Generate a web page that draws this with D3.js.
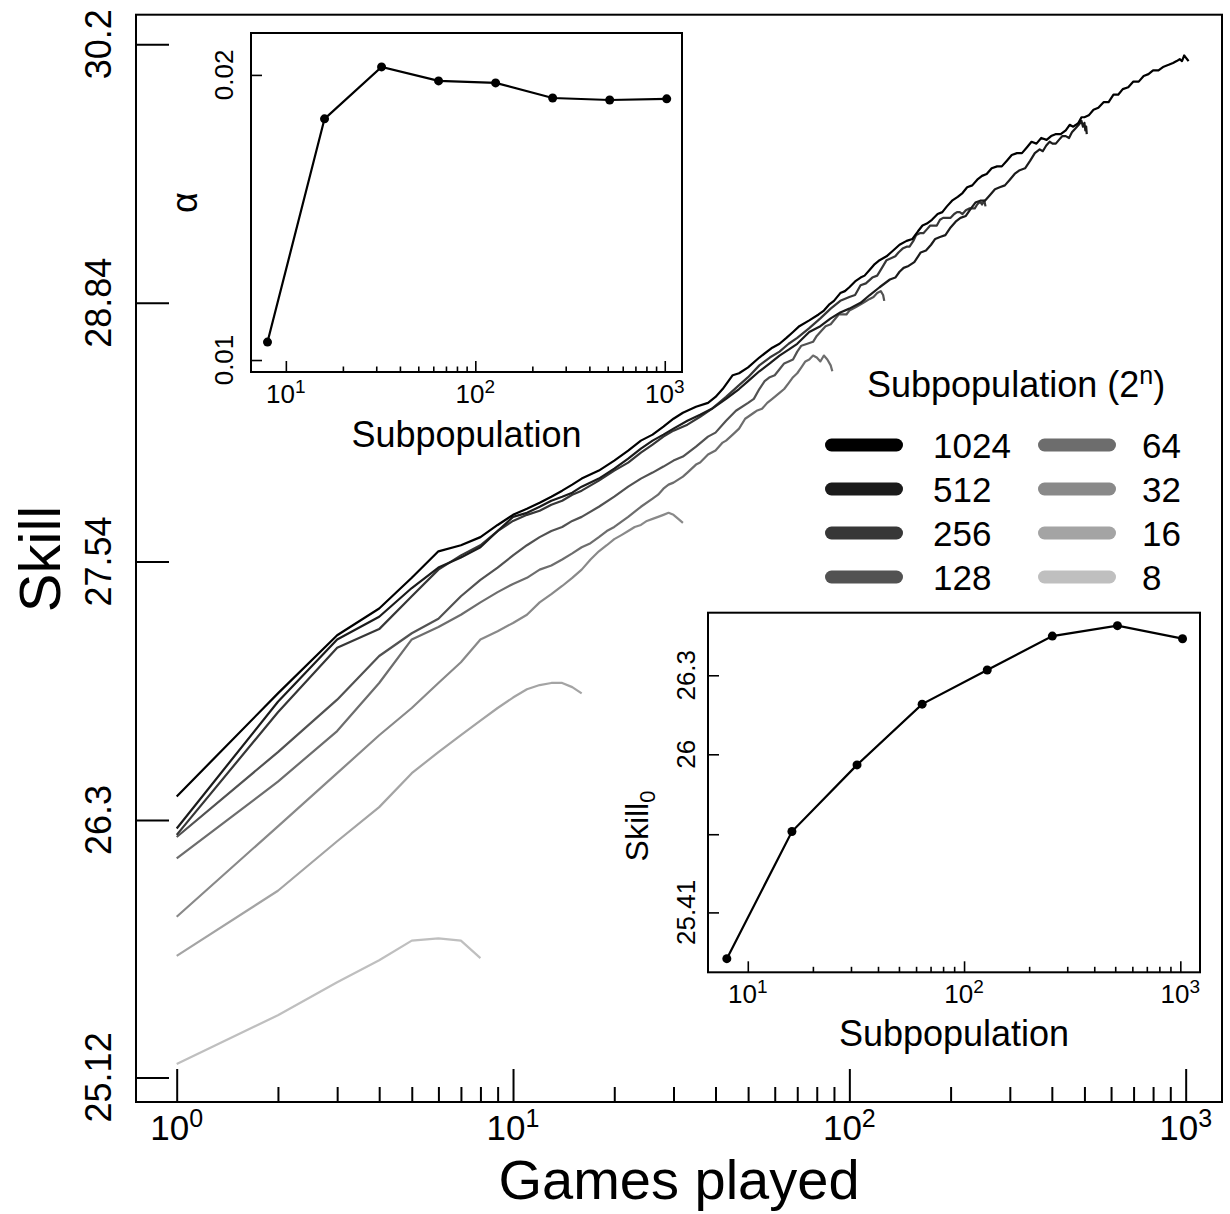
<!DOCTYPE html>
<html>
<head>
<meta charset="utf-8">
<script src="https://cdn.jsdelivr.net/npm/d3@7"></script>
<style>
  html, body { margin: 0; padding: 0; background: #fff; }
  text { font-family: "Liberation Sans", Arial, Helvetica, sans-serif; fill: #000; }
</style>
</head>
<body>
<svg id="chart" width="1230" height="1214"></svg>
<script>
// ---- data -------------------------------------------------------------
// Mean skill after each number of games played, one run per subpopulation size
const run1024 = [[1,26.41],[2,26.90],[3,27.18],[4,27.31],[5,27.46],[6,27.59],[7,27.62],[8,27.66],[9,27.72],[10,27.77],[11,27.80],[12,27.83],[13,27.86],[14,27.89],[15,27.92],[16,27.95],[18,27.99],[20,28.04],[22,28.09],[24,28.14],[26,28.17],[28,28.21],[30,28.25],[32,28.28],[35,28.31],[38,28.33],[40,28.36],[42,28.40],[45,28.47],[47,28.48],[50,28.51],[54,28.56],[59,28.61],[62,28.63],[65,28.66],[68,28.69],[71,28.72],[76,28.75],[81,28.78],[84,28.80],[87,28.83],[90,28.85],[94,28.89],[97,28.90],[100,28.92],[104,28.95],[108,28.97],[111,28.98],[115,29.01],[119,29.04],[123,29.06],[129,29.08],[135,29.11],[141,29.14],[148,29.16],[154,29.17],[160,29.21],[165,29.24],[170,29.25],[176,29.27],[183,29.30],[189,29.31],[195,29.34],[202,29.37],[210,29.39],[217,29.41],[224,29.44],[232,29.45],[240,29.48],[248,29.50],[256,29.51],[265,29.54],[275,29.55],[284,29.55],[294,29.58],[304,29.61],[315,29.62],[326,29.62],[337,29.65],[348,29.68],[360,29.67],[372,29.70],[386,29.69],[398,29.71],[410,29.72],[425,29.72],[440,29.74],[452,29.77],[463,29.76],[472,29.77],[480,29.78],[490,29.81],[500,29.81],[515,29.82],[532,29.85],[550,29.86],[570,29.89],[590,29.89],[610,29.93],[630,29.93],[650,29.96],[675,29.97],[699,30.00],[725,30.00],[750,30.03],[775,30.04],[800,30.06],[830,30.06],[860,30.08],[890,30.09],[917,30.10],[940,30.11],[960,30.12],[975,30.11],[990,30.14],[1000,30.13],[1010,30.12],[1020,30.11]];
const run512 = [[1,26.26],[2,26.86],[3,27.16],[4,27.27],[5,27.41],[6,27.51],[7,27.56],[8,27.61],[9,27.69],[10,27.76],[11,27.78],[12,27.81],[13,27.84],[14,27.86],[15,27.88],[16,27.91],[18,27.95],[20,28.00],[22,28.05],[24,28.10],[26,28.14],[28,28.17],[30,28.20],[33,28.24],[36,28.27],[39,28.30],[43,28.35],[47,28.40],[50,28.44],[54,28.49],[58,28.53],[62,28.57],[66,28.60],[70,28.63],[76,28.69],[82,28.72],[88,28.76],[94,28.79],[100,28.81],[108,28.84],[115,28.88],[123,28.92],[132,28.96],[137,28.97],[141,29.00],[145,29.02],[150,29.03],[156,29.05],[163,29.10],[169,29.11],[175,29.14],[180,29.17],[186,29.18],[193,29.19],[200,29.23],[207,29.26],[214,29.28],[222,29.29],[230,29.33],[237,29.36],[245,29.37],[253,29.37],[262,29.40],[271,29.43],[280,29.44],[290,29.45],[300,29.48],[310,29.51],[321,29.53],[333,29.54],[345,29.58],[356,29.62],[368,29.64],[376,29.63],[385,29.66],[394,29.68],[402,29.67],[411,29.67],[420,29.69],[430,29.71],[440,29.71],[450,29.70],[459,29.73],[470,29.75],[481,29.77],[490,29.79],[495,29.76],[500,29.78],[503,29.74],[506,29.76],[508,29.72]];
const run256 = [[1,26.23],[2,26.81],[3,27.12],[4,27.21],[5,27.37],[6,27.50],[7,27.57],[8,27.62],[9,27.69],[10,27.74],[11,27.77],[12,27.79],[13,27.82],[14,27.84],[15,27.87],[16,27.89],[18,27.94],[20,27.99],[22,28.03],[24,28.08],[26,28.12],[28,28.16],[30,28.19],[33,28.22],[36,28.26],[39,28.30],[43,28.36],[47,28.42],[50,28.46],[54,28.52],[58,28.56],[62,28.59],[66,28.63],[70,28.66],[76,28.71],[82,28.76],[88,28.81],[94,28.85],[100,28.87],[104,28.88],[108,28.93],[112,28.94],[117,28.97],[121,28.98],[125,29.02],[129,29.06],[133,29.07],[137,29.08],[140,29.10],[144,29.12],[148,29.13],[151,29.13],[155,29.16],[158,29.19],[162,29.20],[166,29.20],[170,29.22],[174,29.24],[178,29.24],[182,29.24],[186,29.27],[190,29.28],[195,29.28],[200,29.28],[205,29.30],[209,29.31],[213,29.31],[217,29.30],[222,29.32],[228,29.33],[233,29.33],[236,29.33],[240,29.35],[243,29.36],[246,29.36],[248,29.35],[250,29.36],[252,29.37],[254,29.34]];
const run128 = [[1,26.22],[2,26.62],[3,26.87],[4,27.08],[5,27.19],[6,27.26],[7,27.37],[8,27.45],[9,27.51],[10,27.57],[11,27.62],[12,27.66],[13,27.69],[14,27.71],[15,27.74],[16,27.76],[18,27.81],[20,27.86],[22,27.91],[24,27.95],[26,27.98],[28,28.01],[30,28.04],[32,28.06],[35,28.11],[38,28.16],[40,28.18],[43,28.24],[46,28.29],[50,28.33],[52,28.35],[54,28.40],[56,28.44],[58,28.46],[60,28.47],[62,28.50],[64,28.53],[66,28.54],[68,28.55],[70,28.59],[72,28.62],[75,28.63],[78,28.64],[80,28.67],[83,28.70],[85,28.72],[88,28.73],[90,28.75],[93,28.78],[95,28.78],[98,28.78],[100,28.80],[105,28.82],[110,28.84],[115,28.86],[118,28.87],[121,28.89],[124,28.90],[126,28.88],[127,28.85]];
const run64 = [[1,26.12],[2,26.48],[3,26.72],[4,26.95],[5,27.16],[6,27.22],[7,27.28],[8,27.34],[9,27.39],[10,27.43],[11,27.46],[12,27.50],[13,27.52],[14,27.55],[15,27.58],[16,27.61],[17,27.63],[18,27.66],[19,27.69],[20,27.71],[22,27.76],[24,27.81],[26,27.85],[27,27.87],[28,27.90],[29,27.92],[30,27.93],[32,27.96],[33,27.98],[35,28.02],[36,28.03],[38,28.07],[40,28.09],[42,28.13],[43,28.14],[45,28.17],[47,28.20],[49,28.25],[50,28.26],[52,28.28],[53,28.29],[55,28.30],[57,28.33],[59,28.35],[62,28.38],[64,28.40],[66,28.43],[68,28.46],[70,28.48],[72,28.51],[74,28.54],[76,28.55],[78,28.57],[80,28.56],[82,28.54],[84,28.57],[86,28.55],[88,28.52],[89,28.49]];
const run32 = [[1,25.85],[2,26.27],[3,26.52],[4,26.70],[5,26.83],[6,26.95],[7,27.05],[8,27.16],[9,27.20],[10,27.24],[11,27.28],[12,27.34],[13,27.38],[14,27.42],[15,27.46],[16,27.50],[17,27.55],[18,27.59],[19,27.62],[20,27.65],[21,27.67],[22,27.69],[23,27.71],[24,27.72],[25,27.74],[26,27.75],[27,27.76],[28,27.77],[29,27.78],[30,27.77],[31,27.75],[32,27.73]];
const run16 = [[1,25.67],[2,25.97],[3,26.20],[4,26.36],[5,26.52],[6,26.62],[7,26.70],[8,26.77],[9,26.83],[10,26.88],[11,26.92],[12,26.94],[13,26.95],[14,26.95],[15,26.93],[16,26.90]];
const run8 = [[1,25.18],[2,25.40],[3,25.55],[4,25.65],[5,25.74],[6,25.75],[7,25.74],[8,25.66]];

const subpopLabels = ['1024', '512', '256', '128', '64', '32', '16', '8'];
const subpopRuns = [run1024, run512, run256, run128, run64, run32, run16, run8];
const subpopGreys = ['#000000', '#1b1b1b', '#373737', '#525252', '#6d6d6d', '#898989', '#a4a4a4', '#bfbfbf'];

// Fitted parameters per subpopulation size
const subpopSizes = [8, 16, 32, 64, 128, 256, 512, 1024];
const alphaFit = [0.01063, 0.01846, 0.02028, 0.01979, 0.01972, 0.01919, 0.01912, 0.01916];
const skill0Fit = [25.24, 25.71, 25.96, 26.19, 26.32, 26.45, 26.49, 26.44];

// Axis ticks
const skillTicks = [25.12, 26.3, 27.54, 28.84, 30.2];
const gamesTicks = [1, 10, 100, 1000];
const alphaTicks = [0.01, 0.02];
const skill0Ticks = [25.41, 25.70, 26, 26.3];
const skill0TickLabels = ['25.41', '', '26', '26.3'];
const subpopTicks = [10, 100, 1000];

// ---- drawing ----------------------------------------------------------
const svg = d3.select('#chart');
svg.append('rect').attr('width', 1230).attr('height', 1214).attr('fill', '#fff');

const minorBetween = (lo, hi) => {
  const out = [];
  for (let d = lo; d < hi; d *= 10) for (let m = 2; m <= 9; m++) out.push(d * m);
  return out;
};

function decadeLabel(g, x, y, k, size, supSize, supRise) {
  const t = g.append('text').attr('x', x).attr('y', y)
    .attr('text-anchor', 'middle').style('font-size', size + 'px');
  t.append('tspan').text('10');
  t.append('tspan').attr('dy', -supRise).style('font-size', supSize + 'px').text(k);
}

function rotLabel(g, x, y, txt, size) {
  return g.append('text')
    .attr('transform', `translate(${x},${y}) rotate(-90)`)
    .attr('text-anchor', 'middle').style('font-size', size + 'px').text(txt);
}

function styleAxis(sel, w) {
  sel.select('.domain').remove();
  sel.selectAll('.tick line').attr('stroke', '#000').attr('stroke-width', w);
}

// Main panel
const M = { l: 136, r: 1222, t: 14.7, b: 1102 };
const x = d3.scaleLog().domain([Math.pow(10, -0.121), Math.pow(10, 3.108)]).range([M.l, M.r]);
const y = d3.scaleLog().domain([25.01, 30.36]).range([M.b, M.t]);

const main = svg.append('g');

// ticks point inward
styleAxis(main.append('g').attr('transform', `translate(0,${M.b})`)
  .call(d3.axisBottom(x).tickValues(gamesTicks).tickSize(-33).tickFormat('')), 2);
styleAxis(main.append('g').attr('transform', `translate(0,${M.b})`)
  .call(d3.axisBottom(x).tickValues(minorBetween(1, 1000)).tickSize(-15).tickFormat('')), 2);
styleAxis(main.append('g').attr('transform', `translate(${M.l},0)`)
  .call(d3.axisLeft(y).tickValues(skillTicks).tickSize(-33).tickFormat('')), 2);

gamesTicks.forEach((v, i) => decadeLabel(main, x(v), 1140, String(i), 35, 25, 13));
skillTicks.forEach(v => rotLabel(main, 111, y(v), String(v), 36));

main.append('text').attr('x', (M.l + M.r) / 2).attr('y', 1199)
  .attr('text-anchor', 'middle').style('font-size', '56px').text('Games played');
rotLabel(main, 60, 559, 'Skill', 58);

const line = d3.line().x(d => x(d[0])).y(d => y(d[1]));
const order = d3.range(subpopRuns.length).reverse(); // light runs underneath
main.append('g').selectAll('path').data(order).join('path')
  .attr('d', i => line(subpopRuns[i]))
  .attr('fill', 'none')
  .attr('stroke', i => subpopGreys[i])
  .attr('stroke-width', 2.2)
  .attr('stroke-linejoin', 'round');

main.append('rect').attr('x', M.l).attr('y', M.t)
  .attr('width', M.r - M.l).attr('height', M.b - M.t)
  .attr('fill', 'none').attr('stroke', '#000').attr('stroke-width', 2);

// Legend
const legend = svg.append('g');
const title = legend.append('text').attr('x', 867).attr('y', 397).style('font-size', '36px');
title.append('tspan').text('Subpopulation (2');
title.append('tspan').attr('dy', -13).style('font-size', '25px').text('n');
title.append('tspan').attr('dy', 13).text(')');
subpopLabels.forEach((lab, i) => {
  const col = Math.floor(i / 4), row = i % 4;
  const cy = 445 + row * 44;
  const x0 = col === 0 ? 831.5 : 1044.5;
  legend.append('line').attr('x1', x0).attr('x2', x0 + 65).attr('y1', cy).attr('y2', cy)
    .attr('stroke', subpopGreys[i]).attr('stroke-width', 13).attr('stroke-linecap', 'round');
  legend.append('text').attr('x', col === 0 ? 933 : 1142).attr('y', cy + 12.5)
    .style('font-size', '35px').text(lab);
});

// Inset panels
function inset(box, yScale, yTicks, yTickText, values, yLabelFn, xLabelY, tickBaseX, tickLabelY) {
  const g = svg.append('g');
  g.append('rect').attr('x', box.l).attr('y', box.t)
    .attr('width', box.r - box.l).attr('height', box.b - box.t).attr('fill', '#fff');
  const sx = d3.scaleLog().domain([Math.pow(10, 0.816), Math.pow(10, 3.091)]).range([box.l, box.r]);
  styleAxis(g.append('g').attr('transform', `translate(0,${box.b})`)
    .call(d3.axisBottom(sx).tickValues(subpopTicks).tickSize(-11).tickFormat('')), 1.6);
  styleAxis(g.append('g').attr('transform', `translate(0,${box.b})`)
    .call(d3.axisBottom(sx).tickValues(minorBetween(10, 1000)).tickSize(-5.5).tickFormat('')), 1.6);
  styleAxis(g.append('g').attr('transform', `translate(${box.l},0)`)
    .call(d3.axisLeft(yScale).tickValues(yTicks).tickSize(-11).tickFormat('')), 1.6);
  subpopTicks.forEach((v, i) => decadeLabel(g, sx(v), tickLabelY, String(i + 1), 26, 19, 10));
  yTicks.forEach((v, i) => { if (yTickText[i]) rotLabel(g, tickBaseX, yScale(v), yTickText[i], 26); });
  g.append('text').attr('x', (box.l + box.r) / 2).attr('y', xLabelY)
    .attr('text-anchor', 'middle').style('font-size', '36px').text('Subpopulation');
  yLabelFn(g);
  const pts = subpopSizes.map((s, i) => [s, values[i]]);
  g.append('path').attr('d', d3.line().x(d => sx(d[0])).y(d => yScale(d[1]))(pts))
    .attr('fill', 'none').attr('stroke', '#000').attr('stroke-width', 2.2);
  g.selectAll('circle').data(pts).join('circle')
    .attr('cx', d => sx(d[0])).attr('cy', d => yScale(d[1])).attr('r', 4.5).attr('fill', '#000');
  g.append('rect').attr('x', box.l).attr('y', box.t)
    .attr('width', box.r - box.l).attr('height', box.b - box.t)
    .attr('fill', 'none').attr('stroke', '#000').attr('stroke-width', 2);
}

const boxA = { l: 251, r: 682, t: 33, b: 372 };
const yAlpha = d3.scaleLinear().domain([0.00958, 0.02147]).range([boxA.b, boxA.t]);
inset(boxA, yAlpha, alphaTicks, ['0.01', '0.02'], alphaFit,
  g => rotLabel(g, 197, (boxA.t + boxA.b) / 2, 'α', 36), 447, 233, 403);

const boxS = { l: 708, r: 1200, t: 612.7, b: 972.3 };
const ySkill0 = d3.scaleLog().domain([25.19, 26.54]).range([boxS.b, boxS.t]);
inset(boxS, ySkill0, skill0Ticks, skill0TickLabels, skill0Fit,
  g => {
    const t = g.append('text').attr('transform', 'translate(648,826) rotate(-90)')
      .attr('text-anchor', 'middle').style('font-size', '32px');
    t.append('tspan').text('Skill');
    t.append('tspan').attr('dy', 7).style('font-size', '22px').text('0');
  }, 1046, 695, 1003);
</script>
</body>
</html>
